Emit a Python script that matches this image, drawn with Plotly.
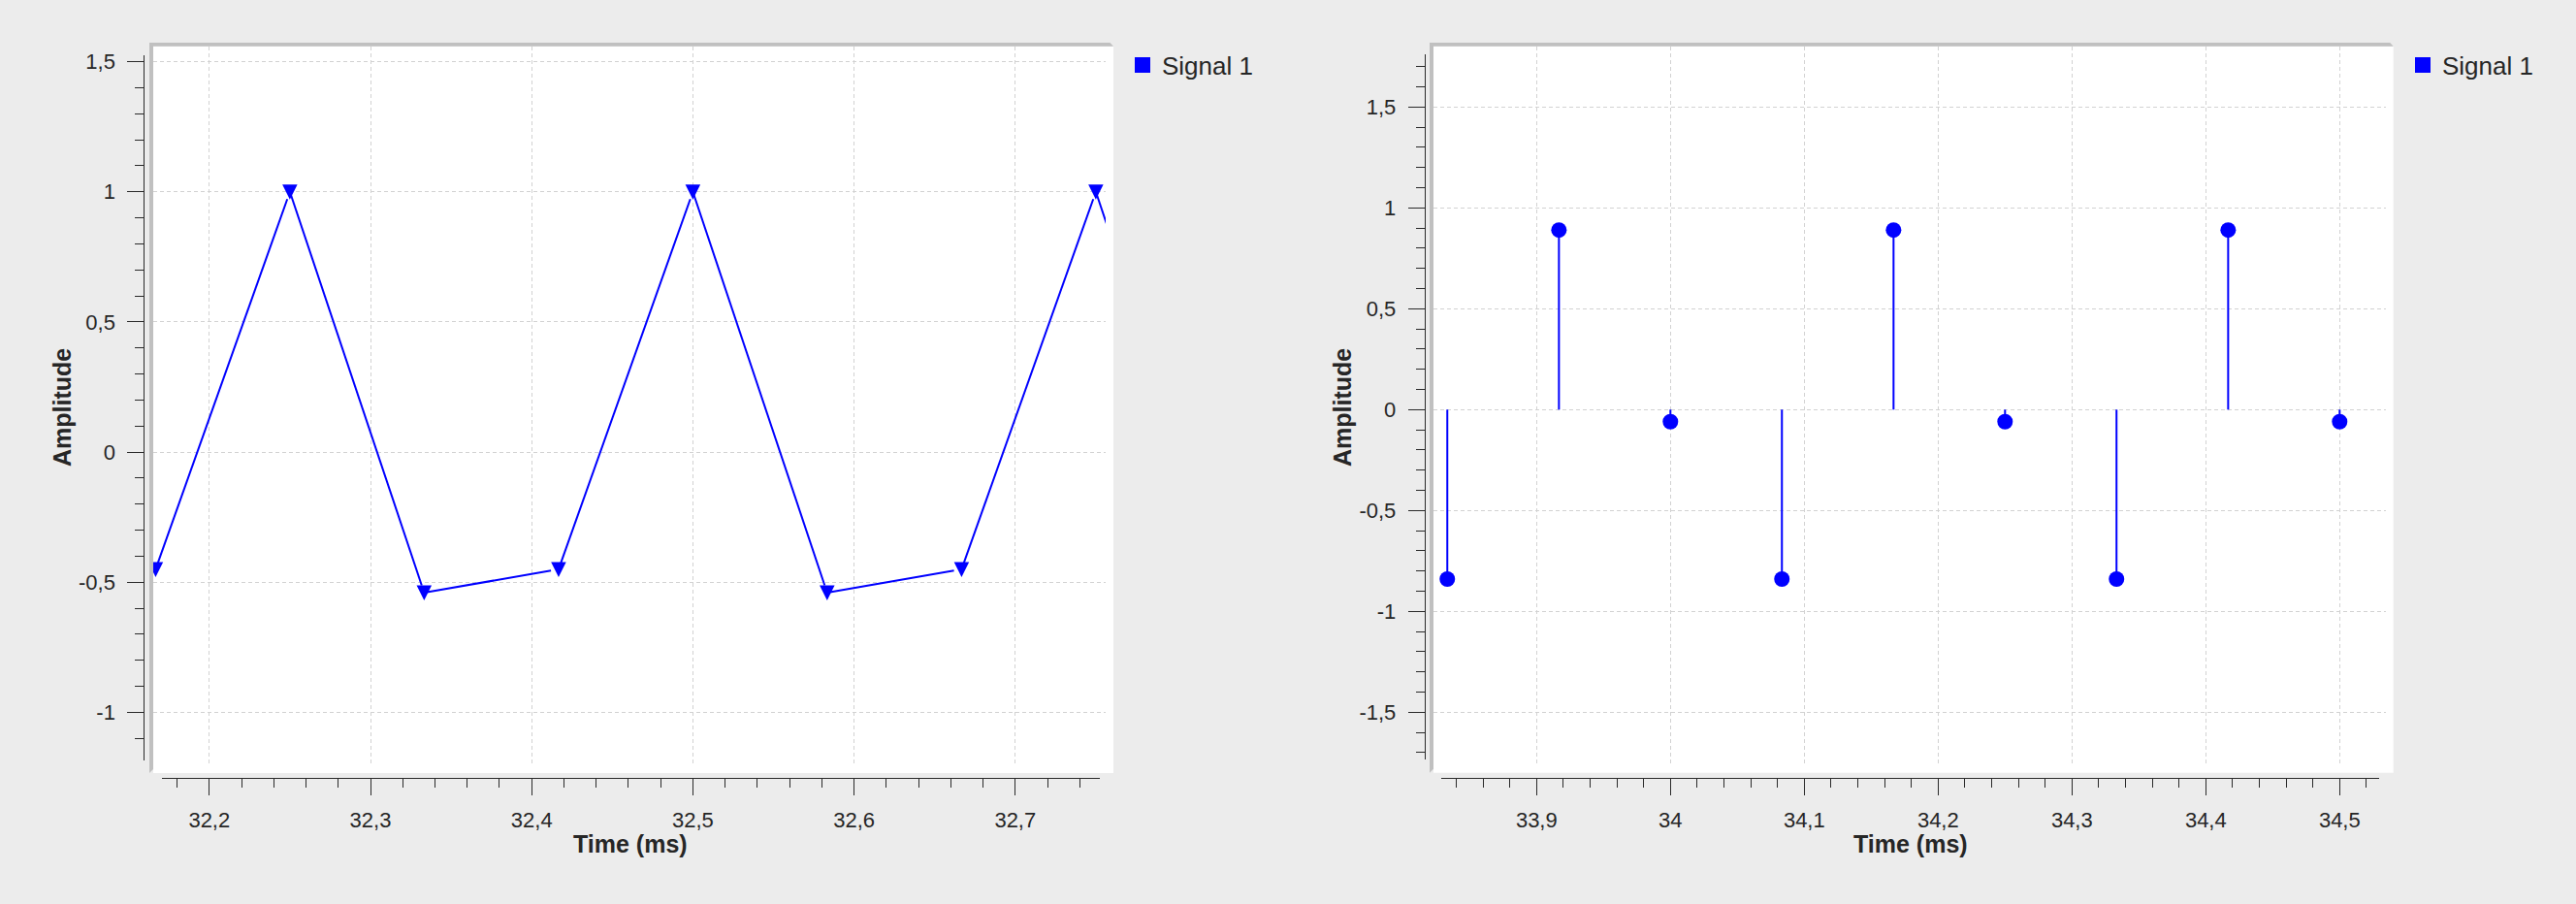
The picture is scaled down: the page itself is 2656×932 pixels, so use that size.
import plotly.graph_objects as go

# ---------------- data ----------------
series_name = "Signal 1"
x_title = "Time (ms)"
y_title = "Amplitude"

time1_ms = [32.1667, 32.25, 32.3333, 32.4167, 32.5, 32.5833, 32.6667, 32.75, 32.8333]
amp1 = [-0.45, 1.0, -0.54, -0.45, 1.0, -0.54, -0.45, 1.0, -0.54]

time2_ms = [33.8333, 33.9167, 34.0, 34.0833, 34.1667, 34.25, 34.3333, 34.4167, 34.5]
amp2 = [-0.84, 0.89, -0.06, -0.84, 0.89, -0.06, -0.84, 0.89, -0.06]

x1_tickvals = [32.2, 32.3, 32.4, 32.5, 32.6, 32.7]
x1_ticktext = ["32,2", "32,3", "32,4", "32,5", "32,6", "32,7"]
y1_tickvals = [-1, -0.5, 0, 0.5, 1, 1.5]
y1_ticktext = ["-1", "-0,5", "0", "0,5", "1", "1,5"]

x2_tickvals = [33.9, 34.0, 34.1, 34.2, 34.3, 34.4, 34.5]
x2_ticktext = ["33,9", "34", "34,1", "34,2", "34,3", "34,4", "34,5"]
y2_tickvals = [-1.5, -1, -0.5, 0, 0.5, 1, 1.5]
y2_ticktext = ["-1,5", "-1", "-0,5", "0", "0,5", "1", "1,5"]

# ---------------- layout geometry (pixels) ----------------
W, H = 2656, 932
BLUE = "#0000ff"
BG = "#ececec"
BORDER = "#c0c0c0"
GRID = "#d2d2d2"
INK = "#262626"
AXIS = "#2a2a2a"
FONT = "Liberation Sans, Arial, sans-serif"


def fx(p):
    return p / W


def fy(p):
    return 1 - p / H


def xval(p, v0, p0, ppu):
    return v0 + (p - p0) / ppu


def yval(p, v0, p0, ppu):
    return v0 - (p - p0) / ppu


panels = [
    dict(  # left panel
        white=(158, 1148, 47.7, 797), grid=(158, 1140, 47.7, 789),
        axx=(166.7, 1133.7), axy=(56.5, 783.6), yline=148.3, xline=802.3,
        xcal=(32.2, 215.8, 1662.0), ycal=(0.0, 466.1, 268.4),
        xt=(x1_tickvals, x1_ticktext), yt=(y1_tickvals, y1_ticktext),
        legend_x=1158, data=(time1_ms, amp1),
        xtitle_pos=(650, 870), ytitle_pos=(64, 420),
    ),
    dict(  # right panel
        white=(1478, 2467.7, 47.7, 796.7), grid=(1478, 2460, 47.7, 789),
        axx=(1486, 2453.3), axy=(56, 783.3), yline=1468.7, xline=802.3,
        xcal=(34.0, 1722.3, 1380.0), ycal=(0.0, 422.3, 208.0),
        xt=(x2_tickvals, x2_ticktext), yt=(y2_tickvals, y2_ticktext),
        legend_x=2478, data=(time2_ms, amp2),
        xtitle_pos=(1970, 870), ytitle_pos=(1384, 420),
    ),
]

fig = go.Figure()

# invisible copies bound to the offset tick axes so those axes get drawn
for i, p in enumerate(panels):
    n_tick = "3" if i == 0 else "4"
    fig.add_trace(go.Scatter(
        x=p["data"][0], y=p["data"][1], mode="lines", opacity=0,
        line=dict(color=BLUE, width=0.1),
        xaxis="x" + n_tick, yaxis="y" + n_tick,
        showlegend=False, hoverinfo="skip",
    ))

# left: line with downward triangle markers (centred on the point)
fig.add_trace(go.Scatter(
    x=time1_ms, y=amp1, mode="lines+markers", name=series_name,
    line=dict(color=BLUE, width=2),
    marker=dict(symbol="arrow-down", size=15.5, standoff=8, color=BLUE,
                line=dict(width=0)),
    xaxis="x", yaxis="y", showlegend=False, hoverinfo="x+y",
))
# right: stems (error bars down/up to zero) with circle markers
fig.add_trace(go.Scatter(
    x=time2_ms, y=amp2, mode="markers", name=series_name,
    marker=dict(symbol="circle", size=16, color=BLUE),
    error_y=dict(type="data", symmetric=False,
                 array=[max(-v, 0) for v in amp2],
                 arrayminus=[max(v, 0) for v in amp2],
                 width=0, thickness=2, color=BLUE),
    xaxis="x2", yaxis="y2", showlegend=False, hoverinfo="x+y",
))
# legend entries (square swatches)
for i, leg in enumerate(["legend", "legend2"]):
    fig.add_trace(go.Scatter(
        x=[None], y=[None], mode="markers", name=series_name,
        marker=dict(symbol="square", size=16, color=BLUE),
        xaxis="x" if i == 0 else "x2", yaxis="y" if i == 0 else "y2",
        legend=leg, showlegend=True,
    ))

layout = dict(
    width=W, height=H, autosize=False,
    margin=dict(l=0, r=0, t=0, b=0, pad=0),
    paper_bgcolor=BG, plot_bgcolor="rgba(0,0,0,0)",
    separators=",.",
    shapes=[], annotations=[],
)

tick_font = dict(family=FONT, size=22, color=INK)
title_font = dict(family=FONT, size=25, color=INK, weight="bold")

for i, p in enumerate(panels):
    n_data = "" if i == 0 else "2"
    n_tick = "3" if i == 0 else "4"
    wx0, wx1, wy0, wy1 = p["white"]
    gx0, gx1, gy0, gy1 = p["grid"]
    xv0, xp0, xppu = p["xcal"]
    yv0, yp0, yppu = p["ycal"]

    # data axes (gridlines only)
    layout["xaxis" + n_data] = dict(
        domain=[fx(gx0), fx(gx1)],
        range=[xval(gx0, xv0, xp0, xppu), xval(gx1, xv0, xp0, xppu)],
        anchor="y" + n_data, tickmode="array", tickvals=p["xt"][0],
        showticklabels=False, ticks="", showline=False, zeroline=False,
        showgrid=True, gridcolor=GRID, gridwidth=1, griddash="4px,3px",
        automargin=False,
    )
    layout["yaxis" + n_data] = dict(
        domain=[fy(gy1), fy(gy0)],
        range=[yval(gy1, yv0, yp0, yppu), yval(gy0, yv0, yp0, yppu)],
        anchor="x" + n_data, tickmode="array", tickvals=p["yt"][0],
        showticklabels=False, ticks="", showline=False, zeroline=False,
        showgrid=True, gridcolor=GRID, gridwidth=1, griddash="4px,3px",
        automargin=False,
    )
    # tick axes (offset from plot area)
    ax0, ax1 = p["axx"]
    ay0, ay1 = p["axy"]
    layout["xaxis" + n_tick] = dict(
        domain=[fx(ax0), fx(ax1)],
        range=[xval(ax0, xv0, xp0, xppu), xval(ax1, xv0, xp0, xppu)],
        anchor="free", position=fy(p["xline"]), side="bottom",
        tickmode="array", tickvals=p["xt"][0], ticktext=p["xt"][1],
        ticks="outside", ticklen=17, tickwidth=1, tickcolor=AXIS,
        showline=True, linecolor=AXIS, linewidth=1,
        minor=dict(dtick=0.02, tick0=0, ticks="outside", ticklen=9,
                   tickwidth=1, tickcolor=AXIS, showgrid=False),
        showgrid=False, zeroline=False, tickfont=tick_font,
        ticklabelstandoff=6, automargin=False,
    )
    layout["yaxis" + n_tick] = dict(
        domain=[fy(ay1), fy(ay0)],
        range=[yval(ay1, yv0, yp0, yppu), yval(ay0, yv0, yp0, yppu)],
        anchor="free", position=fx(p["yline"]), side="left",
        tickmode="array", tickvals=p["yt"][0], ticktext=p["yt"][1],
        ticks="outside", ticklen=17, tickwidth=1, tickcolor=AXIS,
        showline=True, linecolor=AXIS, linewidth=1,
        minor=dict(dtick=0.1, tick0=0, ticks="outside", ticklen=9,
                   tickwidth=1, tickcolor=AXIS, showgrid=False),
        showgrid=False, zeroline=False, tickfont=tick_font,
        ticklabelstandoff=8, automargin=False,
    )

    # axis titles
    tx, ty = p["xtitle_pos"]
    layout["annotations"].append(dict(
        text=x_title, xref="paper", yref="paper", x=fx(tx), y=fy(ty),
        xanchor="center", yanchor="middle", showarrow=False, font=title_font,
    ))
    tx, ty = p["ytitle_pos"]
    layout["annotations"].append(dict(
        text=y_title, xref="paper", yref="paper", x=fx(tx), y=fy(ty),
        xanchor="center", yanchor="middle", showarrow=False, font=title_font,
        textangle=-90,
    ))

    # white panel + bevelled grey border (top and left)
    layout["shapes"].append(dict(
        type="rect", xref="paper", yref="paper", layer="below",
        x0=fx(wx0), x1=fx(wx1), y0=fy(wy1), y1=fy(wy0),
        fillcolor="white", line=dict(width=0),
    ))
    path = (f"M{fx(wx0 - 4)},{fy(wy0 - 3.7)} L{fx(wx1 - 3.5)},{fy(wy0 - 3.7)} "
            f"L{fx(wx1)},{fy(wy0)} L{fx(wx0)},{fy(wy0)} L{fx(wx0)},{fy(wy1 - 4)} "
            f"L{fx(wx0 - 4)},{fy(wy1)} Z")
    layout["shapes"].append(dict(
        type="path", xref="paper", yref="paper", layer="above", path=path,
        fillcolor=BORDER, line=dict(width=0),
    ))

    leg = "legend" if i == 0 else "legend2"
    layout[leg] = dict(
        x=fx(p["legend_x"]), y=fy(43.5), xanchor="left", yanchor="top",
        bgcolor="rgba(0,0,0,0)", borderwidth=0,
        font=dict(family=FONT, size=26, color=INK),
    )

fig.update_layout(**layout)
fig.write_html("out.html")
